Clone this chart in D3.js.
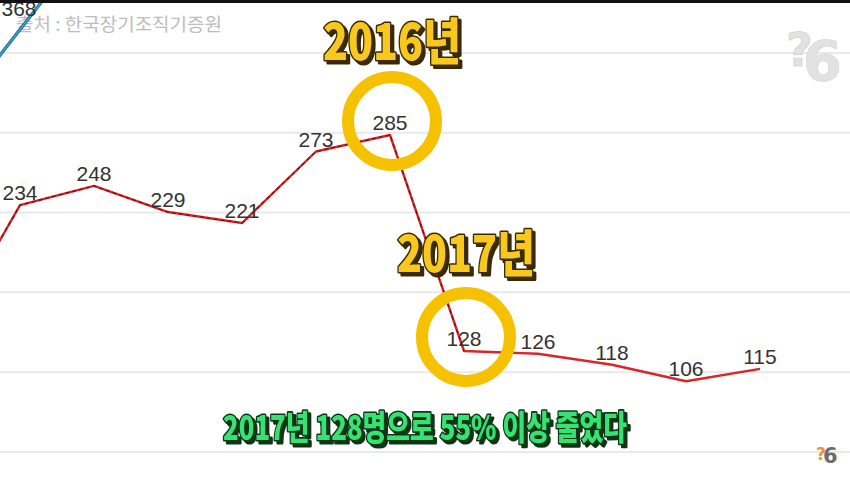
<!DOCTYPE html>
<html>
<head>
<meta charset="utf-8">
<script src="https://cdn.jsdelivr.net/npm/d3@7"></script>
<style>
html,body{margin:0;padding:0;background:#fff;}
svg{display:block;}
</style>
</head>
<body>
<svg id="chart" width="850" height="482"></svg>
<script>
// ---- data ----
const years = [2010, 2011, 2012, 2013, 2014, 2015, 2016, 2017, 2018, 2019, 2020, 2021];
const donors = [140, 234, 248, 229, 221, 273, 285, 128, 126, 118, 106, 115];
const otherSeries = [299, 368, 437, null, null, null, null, null, null, null, null, null];
const otherLabelYears = [2011];
const gridTicks = [55, 113, 171, 229, 287, 345];
const highlightYears = [2016, 2017];
const highlightTitles = ["2016년", "2017년"];
const sourceText = "출처 : 한국장기조직기증원";
const subtitleText = "2017년 128명으로 55% 이상 줄었다";

const W = 850, H = 482;
const svg = d3.select("#chart");

const x = d3.scaleLinear().domain([2011, 2021]).range([20, 760]);
const y = d3.scaleLinear().domain([285, 128]).range([135, 351]);
// the other (blue) series sits on its own secondary scale
const y2 = d3.scaleLinear().domain([368, 299]).range([29.5, 124.4]);

// defs: clip + shadows
const defs = svg.append("defs");
defs.append("clipPath").attr("id", "clip").append("rect").attr("x", 0).attr("y", 3).attr("width", W).attr("height", H - 3);
function shadow(id, color) {
  defs.append("filter").attr("id", id).attr("x", "-10%").attr("y", "-20%").attr("width", "130%").attr("height", "150%")
    .append("feDropShadow").attr("dx", 3).attr("dy", 3).attr("stdDeviation", 0.6)
    .attr("flood-color", color).attr("flood-opacity", 1);
}
shadow("shY", "#3a2c05");
shadow("shG", "#0c3518");

svg.append("rect").attr("width", W).attr("height", H).attr("fill", "#fff");

// gridlines
const yAxis = d3.axisLeft(y).tickValues(gridTicks).tickSize(-W).tickFormat("");
const gAxis = svg.append("g").call(yAxis);
gAxis.select(".domain").remove();
gAxis.selectAll(".tick line").attr("stroke", "#e9e9e9").attr("stroke-width", 2).attr("x1", 0).attr("x2", W);

// watermark top-right
const wm = svg.append("g").attr("fill", "#e2e2e2").attr("font-family", "DejaVu Sans").attr("font-weight", "bold");
wm.append("text").attr("x", 786).attr("y", 66).attr("font-size", 46).attr("stroke", "#cdcdcd").attr("stroke-width", 0.6).text("?");
wm.append("text").attr("x", 803).attr("y", 80).attr("font-size", 56).attr("stroke", "#d3d3d3").attr("stroke-width", 0.6).text("6");

// source text
svg.append("text").attr("x", 16).attr("y", 31)
  .attr("font-family", "'Noto Sans CJK KR', sans-serif").attr("font-size", 18)
  .attr("textLength", 206).attr("lengthAdjust", "spacingAndGlyphs")
  .attr("fill", "#bdbdbd").text(sourceText);

const plot = svg.append("g").attr("clip-path", "url(#clip)");

// blue series
const blueData = years.map((yr, i) => ({yr, v: otherSeries[i]})).filter(d => d.v != null);
const line = d3.line().x(d => x(d.yr)).y(d => y(d.v));
const line2 = d3.line().x(d => x(d.yr)).y(d => y2(d.v));
plot.append("path").datum(blueData).attr("d", line2)
  .attr("fill", "none").attr("stroke", "#1f4f66").attr("stroke-width", 3.2);
plot.append("path").datum(blueData).attr("d", line2)
  .attr("fill", "none").attr("stroke", "#2ea3d8").attr("stroke-width", 2);

// red series
const redData = years.map((yr, i) => ({yr, v: donors[i]}));
plot.append("path").datum(redData).attr("d", line)
  .attr("fill", "none").attr("stroke", "#d8262a").attr("stroke-width", 2.4).attr("stroke-linejoin", "round");
plot.append("path").datum(redData.filter(d => d.yr <= 2017)).attr("d", line)
  .attr("fill", "none").attr("stroke", "#7a0f12").attr("stroke-width", 1.2).attr("stroke-dasharray", "4,3");

// labels
const labelFont = "'Liberation Sans', Arial, sans-serif";
plot.selectAll("text.rl").data(redData.filter(d => d.yr >= 2011)).join("text")
  .attr("class", "rl")
  .attr("x", d => x(d.yr))
  .attr("y", d => y(d.v) - 5)
  .attr("text-anchor", "middle")
  .attr("font-family", labelFont).attr("font-size", 21).attr("fill", "#333")
  .text(d => d.v);
plot.selectAll("text.bl").data(blueData.filter(d => otherLabelYears.includes(d.yr))).join("text")
  .attr("class", "bl")
  .attr("x", d => x(d.yr) - 1)
  .attr("y", d => y2(d.v) - 14)
  .attr("text-anchor", "middle")
  .attr("font-family", labelFont).attr("font-size", 21).attr("fill", "#333")
  .text(d => d.v);

// highlight circles + titles
const hl = highlightYears.map((yr, i) => ({yr, v: donors[years.indexOf(yr)], title: highlightTitles[i]}));
svg.selectAll("circle.hl").data(hl).join("circle")
  .attr("class", "hl")
  .attr("cx", d => x(d.yr) + 2)
  .attr("cy", d => y(d.v) - 14)
  .attr("r", 44)
  .attr("fill", "none").attr("stroke", "#f6c100").attr("stroke-width", 12);

const titleFont = "'Noto Sans CJK KR', sans-serif";
function outlinedText(g, tx, ty, txt, len, size, fill, dark, filt) {
  g.append("text").attr("x", tx).attr("y", ty).attr("text-anchor", "middle")
    .attr("font-family", titleFont).attr("font-weight", 900).attr("font-size", size)
    .attr("textLength", len).attr("lengthAdjust", "spacingAndGlyphs")
    .attr("fill", fill).attr("stroke", dark).attr("stroke-width", 3.2).attr("stroke-linejoin", "round")
    .attr("paint-order", "stroke")
    .attr("filter", `url(#${filt})`)
    .text(txt);
}
const tg = svg.append("g");
hl.forEach((d, i) => {
  const ty = i === 0 ? y(d.v) - 75 : y(d.v) - 79;
  outlinedText(tg, x(d.yr) + 2, ty, d.title, 138, 50, "#f8c91d", "#3a2c05", "shY");
});

// subtitle
outlinedText(svg.append("g"), 425, 440, subtitleText, 404, 34, "#35e272", "#0c3518", "shG");

// bottom-right mini logo
svg.append("text").attr("x", 816).attr("y", 460).attr("font-family", "DejaVu Sans").attr("font-weight", "bold")
  .attr("font-size", 17).attr("fill", "#f0903a").text("?");
svg.append("text").attr("x", 823).attr("y", 463).attr("font-family", "DejaVu Sans").attr("font-weight", "bold")
  .attr("font-size", 21).attr("fill", "#6d6d6d").text("6");

// top black bar
svg.append("rect").attr("x", 0).attr("y", 0).attr("width", W).attr("height", 3).attr("fill", "#111");
</script>
</body>
</html>
